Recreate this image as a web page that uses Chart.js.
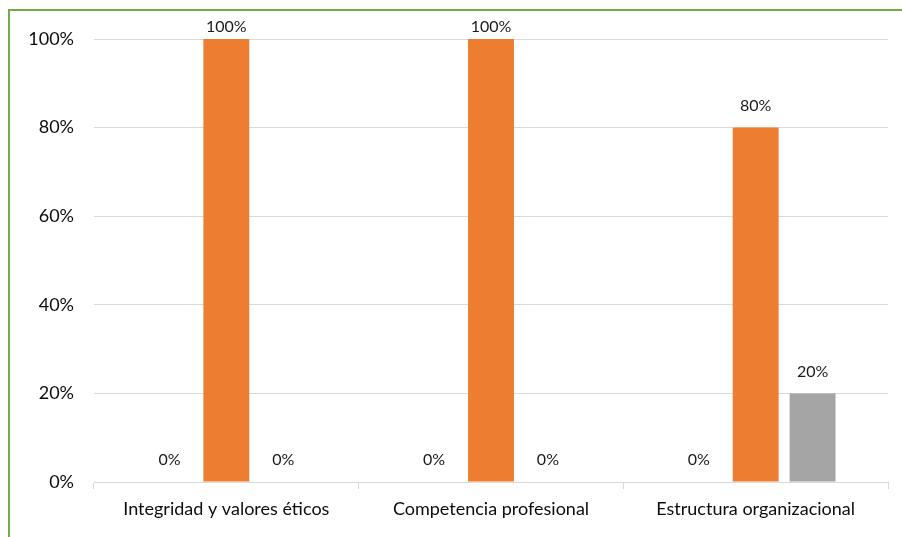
<!DOCTYPE html>
<html lang="es">
<head>
  <meta charset="UTF-8">
  <title>Componentes</title>
  <script src="https://cdn.jsdelivr.net/npm/chart.js"></script>
  <style>
    html, body {
      margin: 0;
      padding: 0;
      background: #fff;
      overflow: hidden;
    }
    .frame {
      position: absolute;
      left: 8px;
      top: 9px;
      width: 1000px;
      height: 1000px;
      border-left: 2px solid #70ad47;
      border-top: 2px solid #70ad47;
    }
    .wrap {
      position: absolute;
      left: 0;
      top: 0;
      width: 902px;
      height: 537px;
    }
  </style>
</head>
<body>
  <div class="frame"></div>
  <div class="wrap"><canvas id="chart"></canvas></div>

  <script>
    const categories = ['Integridad y valores éticos', 'Competencia profesional', 'Estructura organizacional'];
    const serie1 = [0, 0, 0];
    const serie2 = [100, 100, 80];
    const serie3 = [0, 0, 20];
    const yTicks = [0, 20, 40, 60, 80, 100];

    const FONT = "Lato, 'Open Sans', sans-serif";

    // etiquetas de valor encima de cada barra (como en Excel, no salen del marco)
    const valueLabels = {
      id: 'valueLabels',
      afterDatasetsDraw(chart) {
        const ctx = chart.ctx;
        ctx.save();
        ctx.font = '16px ' + FONT;
        ctx.fillStyle = '#1a1a1a';
        ctx.textAlign = 'center';
        ctx.textBaseline = 'middle';
        chart.data.datasets.forEach((ds, i) => {
          chart.getDatasetMeta(i).data.forEach((bar, j) => {
            const y = Math.max(bar.y - 22, 27);
            ctx.fillText(ds.data[j] + '%', bar.x, y);
          });
        });
        ctx.restore();
      }
    };

    new Chart(document.getElementById('chart'), {
      type: 'bar',
      data: {
        labels: categories,
        datasets: [
          { label: 'Serie 1', data: serie1, backgroundColor: '#4472c4' },
          { label: 'Serie 2', data: serie2, backgroundColor: '#ed7d31' },
          { label: 'Serie 3', data: serie3, backgroundColor: '#a5a5a5' }
        ]
      },
      options: {
        responsive: true,
        maintainAspectRatio: false,
        animation: false,
        categoryPercentage: 0.645,
        barPercentage: 0.807,
        layout: { padding: { top: 39, right: 14, left: 0, bottom: 0 } },
        plugins: {
          legend: { display: false },
          tooltip: { enabled: false }
        },
        scales: {
          x: {
            grid: {
              drawOnChartArea: false,
              drawTicks: true,
              tickLength: 7,
              color: '#d9d9d9'
            },
            border: { display: true, color: '#d9d9d9' },
            ticks: {
              font: { family: FONT, size: 18 },
              color: '#0d0d0d',
              padding: 9,
              maxRotation: 0
            },
            afterFit(scale) { scale.height = 55; }
          },
          y: {
            min: 0,
            max: 100,
            afterBuildTicks(scale) { scale.ticks = yTicks.map(v => ({ value: v })); },
            grid: { color: '#d9d9d9', drawTicks: false },
            border: { display: false },
            ticks: {
              font: { family: FONT, size: 18 },
              color: '#0d0d0d',
              padding: 20,
              callback: v => v + '%'
            },
            afterFit(scale) { scale.width = 94; }
          }
        }
      },
      plugins: [valueLabels]
    });
  </script>
</body>
</html>
